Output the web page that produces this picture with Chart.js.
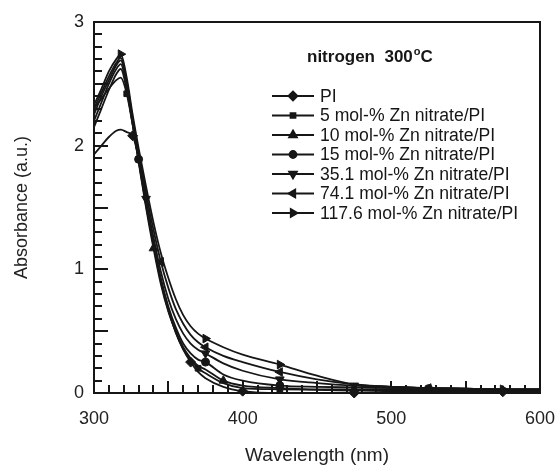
<!DOCTYPE html>
<html><head><meta charset="utf-8">
<script src="https://cdn.jsdelivr.net/npm/chart.js@4.4.1/dist/chart.umd.min.js"></script>
<style>html,body{margin:0;padding:0;background:#fff}</style>
</head><body>
<canvas id="c" width="560" height="474"></canvas>
<script>
// ---------- data ----------
const wavelengths = [300, 305, 310, 315, 318, 322, 326, 330, 335, 340, 345, 350, 355, 360, 365, 370, 375, 387, 400, 425, 450, 475, 500, 525, 550, 575, 600];

const seriesNames = ["PI", "5 mol-% Zn nitrate/PI", "10 mol-% Zn nitrate/PI", "15 mol-% Zn nitrate/PI",
  "35.1 mol-% Zn nitrate/PI", "74.1 mol-% Zn nitrate/PI", "117.6 mol-% Zn nitrate/PI"];

const absPI    = [1.93, 2.00, 2.07, 2.12, 2.13, 2.11, 2.08, 1.90, 1.55, 1.22, 0.92, 0.68, 0.49, 0.35, 0.25, 0.17, 0.12, 0.05, 0.015, 0.00, 0.00, 0.00, 0.01, 0.01, 0.01, 0.01, 0.01];
const abs5     = [2.30, 2.38, 2.46, 2.53, 2.55, 2.42, 2.17, 1.88, 1.52, 1.20, 0.90, 0.67, 0.49, 0.36, 0.27, 0.20, 0.16, 0.08, 0.04, 0.03, 0.025, 0.02, 0.02, 0.02, 0.02, 0.02, 0.02];
const abs10    = [2.15, 2.30, 2.45, 2.58, 2.62, 2.45, 2.17, 1.87, 1.50, 1.17, 0.88, 0.66, 0.50, 0.37, 0.28, 0.22, 0.19, 0.10, 0.06, 0.04, 0.03, 0.03, 0.03, 0.03, 0.02, 0.02, 0.02];
const abs15    = [2.20, 2.35, 2.50, 2.62, 2.66, 2.47, 2.18, 1.89, 1.53, 1.20, 0.92, 0.70, 0.53, 0.40, 0.32, 0.27, 0.25, 0.15, 0.10, 0.06, 0.05, 0.045, 0.04, 0.035, 0.03, 0.03, 0.03];
const abs35_1  = [2.25, 2.40, 2.53, 2.65, 2.69, 2.50, 2.20, 1.92, 1.57, 1.26, 0.98, 0.76, 0.60, 0.48, 0.40, 0.35, 0.32, 0.24, 0.18, 0.11, 0.08, 0.06, 0.05, 0.04, 0.035, 0.03, 0.03];
const abs74_1  = [2.30, 2.43, 2.56, 2.67, 2.71, 2.52, 2.22, 1.95, 1.62, 1.32, 1.06, 0.85, 0.68, 0.56, 0.47, 0.41, 0.37, 0.30, 0.25, 0.17, 0.11, 0.07, 0.05, 0.04, 0.035, 0.03, 0.03];
const abs117_6 = [2.33, 2.46, 2.60, 2.70, 2.74, 2.55, 2.25, 1.98, 1.67, 1.38, 1.13, 0.93, 0.76, 0.63, 0.54, 0.48, 0.44, 0.37, 0.31, 0.23, 0.14, 0.07, 0.05, 0.04, 0.035, 0.03, 0.03];

// wavelengths at which each series shows its symbol
const markPI    = [326, 365, 400, 475, 575];
const mark5     = [322, 370, 425, 525];
const mark10    = [340, 387, 475, 575];
const mark15    = [330, 375, 425, 525];
const mark35_1  = [335, 375, 425, 475];
const mark74_1  = [345, 375, 425, 525];
const mark117_6 = [318, 375, 425, 575];

const xTickLabels = [300, 400, 500, 600];
const yTickLabels = [0, 1, 2, 3];
const chartTitle = "nitrogen  300";

// ---------- build ----------
const allAbs = [absPI, abs5, abs10, abs15, abs35_1, abs74_1, abs117_6];
const allMarks = [markPI, mark5, mark10, mark15, mark35_1, mark74_1, mark117_6];
const styles = [
  {ps: 'rectRot', rot: 0, r: 5},
  {ps: 'rect', rot: 0, r: 4},
  {ps: 'triangle', rot: 0, r: 5},
  {ps: 'circle', rot: 0, r: 4},
  {ps: 'triangle', rot: 180, r: 5},
  {ps: 'triangle', rot: 30, r: 5},
  {ps: 'triangle', rot: -30, r: 5}
];
const INK = '#161616';
const FONT = "'Liberation Sans', Arial, sans-serif";

const datasets = allAbs.map((vals, i) => ({
  label: seriesNames[i],
  data: wavelengths.map((w, j) => ({x: w, y: vals[j]})),
  borderColor: INK,
  backgroundColor: INK,
  borderWidth: 1.8,
  pointStyle: styles[i].ps,
  pointRotation: styles[i].rot,
  pointBackgroundColor: INK,
  pointBorderColor: INK,
  pointBorderWidth: 1,
  pointRadius: (ctx) => allMarks[i].includes(wavelengths[ctx.dataIndex]) ? styles[i].r : 0,
  pointHoverRadius: 0,
  cubicInterpolationMode: 'monotone',
  clip: false
}));

const decorPlugin = {
  id: 'decor',
  afterDatasetsDraw(chart) {
    const {ctx, chartArea: a, scales: {x, y}} = chart;
    ctx.save();
    ctx.strokeStyle = INK;
    ctx.lineWidth = 2;
    ctx.strokeRect(a.left, a.top, a.right - a.left, a.bottom - a.top);
    // inward ticks on the x axis (every 10 nm, long every 50)
    for (let w = 300; w <= 600; w += 10) {
      const px = Math.round(x.getPixelForValue(w));
      const len = (w % 50 === 0) ? 12 : 8;
      ctx.beginPath(); ctx.moveTo(px, a.bottom); ctx.lineTo(px, a.bottom - len); ctx.stroke();
    }
    // inward ticks on the y axis (every 0.1, long every 0.5)
    for (let k = 0; k <= 30; k++) {
      const py = Math.round(y.getPixelForValue(k / 10));
      const len = (k % 5 === 0) ? 14 : 8;
      ctx.beginPath(); ctx.moveTo(a.left, py); ctx.lineTo(a.left + len, py); ctx.stroke();
    }
    // title
    ctx.fillStyle = INK;
    ctx.font = "bold 17px " + FONT;
    ctx.textBaseline = 'alphabetic';
    ctx.textAlign = 'left';
    let tx = 307, ty = 62;
    ctx.fillText(chartTitle, tx, ty);
    tx += ctx.measureText(chartTitle).width + 1;
    ctx.font = "bold 11px " + FONT;
    ctx.fillText("o", tx, ty - 7);
    tx += ctx.measureText("o").width;
    ctx.font = "bold 17px " + FONT;
    ctx.fillText("C", tx, ty);
    // legend
    ctx.font = "17.6px " + FONT;
    ctx.textBaseline = 'middle';
    const x0 = 272, x1 = 314, xm = 293, tx0 = 320;
    seriesNames.forEach((name, i) => {
      const yy = 96 + i * 19.5;
      ctx.lineWidth = 1.8;
      ctx.beginPath(); ctx.moveTo(x0, yy); ctx.lineTo(x1, yy); ctx.stroke();
      Chart.helpers.drawPoint(ctx, {pointStyle: styles[i].ps, rotation: styles[i].rot, radius: styles[i].r - 0.5, borderWidth: 1}, xm, yy);
      ctx.fillStyle = INK;
      ctx.fill();
      ctx.fillText(name, tx0, yy + 1);
    });
    ctx.restore();
  }
};

const noPad = (s) => { s.paddingLeft = 0; s.paddingRight = 0; s.paddingTop = 0; s.paddingBottom = 0; };

new Chart(document.getElementById('c'), {
  type: 'line',
  data: {datasets},
  options: {
    responsive: false,
    devicePixelRatio: 1,
    animation: false,
    events: [],
    layout: {padding: {left: 0, right: 20, top: 22, bottom: 0}, autoPadding: false},
    plugins: {legend: {display: false}, tooltip: {enabled: false}},
    scales: {
      x: {
        type: 'linear', min: 300, max: 600,
        afterFit: (s) => { s.height = 81; noPad(s); },
        afterBuildTicks: (s) => { s.ticks = xTickLabels.map(v => ({value: v})); },
        grid: {display: false, drawTicks: false},
        border: {display: false},
        ticks: {color: '#222', font: {family: FONT, size: 18}, padding: 15, maxRotation: 0},
        title: {display: true, text: 'Wavelength (nm)', color: '#222', font: {family: FONT, size: 19}, padding: {top: 0, bottom: 7}}
      },
      y: {
        type: 'linear', min: 0, max: 3,
        afterFit: (s) => { s.width = 94; noPad(s); },
        afterBuildTicks: (s) => { s.ticks = yTickLabels.map(v => ({value: v})); },
        grid: {display: false, drawTicks: false},
        border: {display: false},
        ticks: {color: '#222', font: {family: FONT, size: 18}, padding: 10},
        title: {display: true, text: 'Absorbance (a.u.)', color: '#222', font: {family: FONT, size: 18}, padding: {top: 11, bottom: 0}}
      }
    }
  },
  plugins: [decorPlugin]
});
</script>
</body></html>
